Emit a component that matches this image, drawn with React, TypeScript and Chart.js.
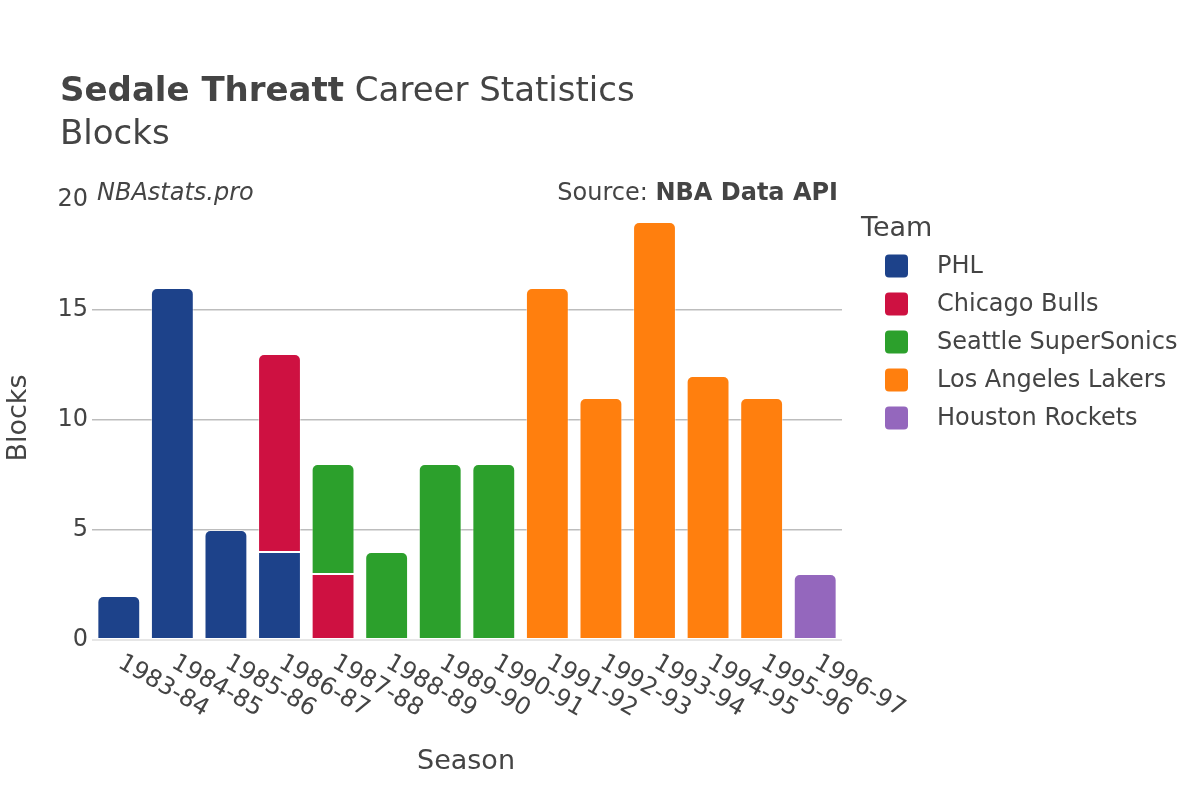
import React, { useEffect, useRef } from "react";
import { Chart, registerables } from "chart.js";

Chart.register(...registerables);

const seasons = [
  "1983-84", "1984-85", "1985-86", "1986-87", "1987-88", "1988-89", "1989-90",
  "1990-91", "1991-92", "1992-93", "1993-94", "1994-95", "1995-96", "1996-97",
];
const teams = ["PHL", "Chicago Bulls", "Seattle SuperSonics", "Los Angeles Lakers", "Houston Rockets"];
const teamColors = ["#1d428a", "#ce1141", "#2ca02c", "#ff7f0e", "#9467bd"];

const phlBlocks = [2, 16, 5, 4, null, null, null, null, null, null, null, null, null, null];
const chicagoBlocks = [null, null, null, 9, 3, null, null, null, null, null, null, null, null, null];
const seattleBlocks = [null, null, null, null, 5, 4, 8, 8, null, null, null, null, null, null];
const lakersBlocks = [null, null, null, null, null, null, null, null, 16, 11, 19, 12, 11, null];
const houstonBlocks = [null, null, null, null, null, null, null, null, null, null, null, null, null, 3];

const seriesValues = [phlBlocks, chicagoBlocks, seattleBlocks, lakersBlocks, houstonBlocks];
const yTicks = [0, 5, 10, 15, 20];

const FONT = "'DejaVu Sans', sans-serif";
const TEXT = "#444";

const overlay = {
  id: "overlay",
  afterDraw(chart: any) {
    const ctx = chart.ctx;
    const xs = chart.scales.x;
    ctx.save();
    ctx.fillStyle = TEXT;

    // x tick labels, rotated 30deg
    ctx.font = `24px ${FONT}`;
    seasons.forEach((s, i) => {
      const x = xs.getPixelForValue(i);
      ctx.save();
      ctx.translate(x + 1, 661);
      ctx.rotate(Math.PI / 6);
      ctx.textAlign = "left";
      ctx.textBaseline = "middle";
      ctx.fillText(s, 0, 0);
      ctx.restore();
    });

    // title
    ctx.textAlign = "left";
    ctx.textBaseline = "alphabetic";
    ctx.font = `bold 34px ${FONT}`;
    const bold = "Sedale Threatt";
    ctx.fillText(bold, 60, 101);
    const bw = ctx.measureText(bold).width;
    ctx.font = `34px ${FONT}`;
    ctx.fillText(" Career Statistics", 60 + bw, 101);
    ctx.fillText("Blocks", 60, 144);

    // annotations
    ctx.font = `italic 24px ${FONT}`;
    ctx.fillText("NBAstats.pro", 97, 200);
    ctx.font = `bold 24px ${FONT}`;
    const src = "NBA Data API";
    const sw = ctx.measureText(src).width;
    ctx.textAlign = "right";
    ctx.fillText(src, 838, 200);
    ctx.font = `24px ${FONT}`;
    ctx.fillText("Source: ", 838 - sw, 200);

    // axis titles
    ctx.textAlign = "center";
    ctx.font = `27px ${FONT}`;
    ctx.fillText("Season", 466, 769);
    ctx.save();
    ctx.translate(26, 418);
    ctx.rotate(-Math.PI / 2);
    ctx.fillText("Blocks", 0, 0);
    ctx.restore();

    // legend
    ctx.textAlign = "left";
    ctx.font = `27px ${FONT}`;
    ctx.fillText("Team", 861, 236);
    ctx.font = `24px ${FONT}`;
    ctx.textBaseline = "middle";
    teams.forEach((t, k) => {
      const cy = 266 + 38 * k;
      ctx.fillStyle = teamColors[k];
      ctx.beginPath();
      (ctx as any).roundRect(885, cy - 11.5, 23, 23, 4);
      ctx.fill();
      ctx.fillStyle = TEXT;
      ctx.fillText(t, 937, cy + 1);
    });
    ctx.restore();
  },
};

function isTop(dsIndex: number, i: number) {
  for (let d = dsIndex + 1; d < seriesValues.length; d++) {
    const v = seriesValues[d][i];
    if (v !== null && v !== 0) return false;
  }
  return true;
}

export default function App() {
  const ref = useRef<HTMLCanvasElement>(null);
  useEffect(() => {
    if (!ref.current) return;
    const chart = new Chart(ref.current, {
      type: "bar",
      data: {
        labels: seasons,
        datasets: teams.map((t, k) => ({
          label: t,
          data: seriesValues[k],
          backgroundColor: teamColors[k],
          borderColor: "rgba(255,255,255,0.45)",
          borderWidth: 1,
          borderSkipped: false,
          borderRadius: (c: any) =>
            isTop(c.datasetIndex, c.dataIndex)
              ? { topLeft: 6, topRight: 6, bottomLeft: 0, bottomRight: 0 }
              : 0,
          barPercentage: 0.8,
          categoryPercentage: 1,
        })),
      },
      options: {
        responsive: false,
        animation: false,
        layout: { padding: { top: 200, right: 358, left: 0, bottom: 0 } },
        plugins: { legend: { display: false }, title: { display: false }, tooltip: { enabled: false } },
        scales: {
          x: {
            stacked: true,
            grid: { display: false },
            border: { display: false },
            ticks: { display: false },
            afterFit: (s: any) => { s.height = 160; },
          },
          y: {
            stacked: true,
            min: 0,
            max: 20,
            afterBuildTicks: (s: any) => { s.ticks = yTicks.map((v) => ({ value: v })); },
            ticks: { color: TEXT, font: { family: FONT, size: 24 }, padding: 4 },
            grid: {
              drawTicks: false,
              color: (c: any) => (c.tick && c.tick.value === 0 ? "#e6e6e6" : c.tick && c.tick.value === 20 ? "rgba(0,0,0,0)" : "#bdbdbd"),
              lineWidth: (c: any) => (c.tick && c.tick.value === 0 ? 2 : 1.5),
            },
            border: { display: false },
            afterFit: (s: any) => { s.width = 92; },
          },
        },
      },
      plugins: [overlay],
    });
    return () => chart.destroy();
  }, []);
  return (
    <div style={{ position: "absolute", left: 0, top: 0, width: 1200, height: 800, background: "#fff" }}>
      <canvas ref={ref} width={1200} height={800} style={{ width: 1200, height: 800 }} />
    </div>
  );
}
